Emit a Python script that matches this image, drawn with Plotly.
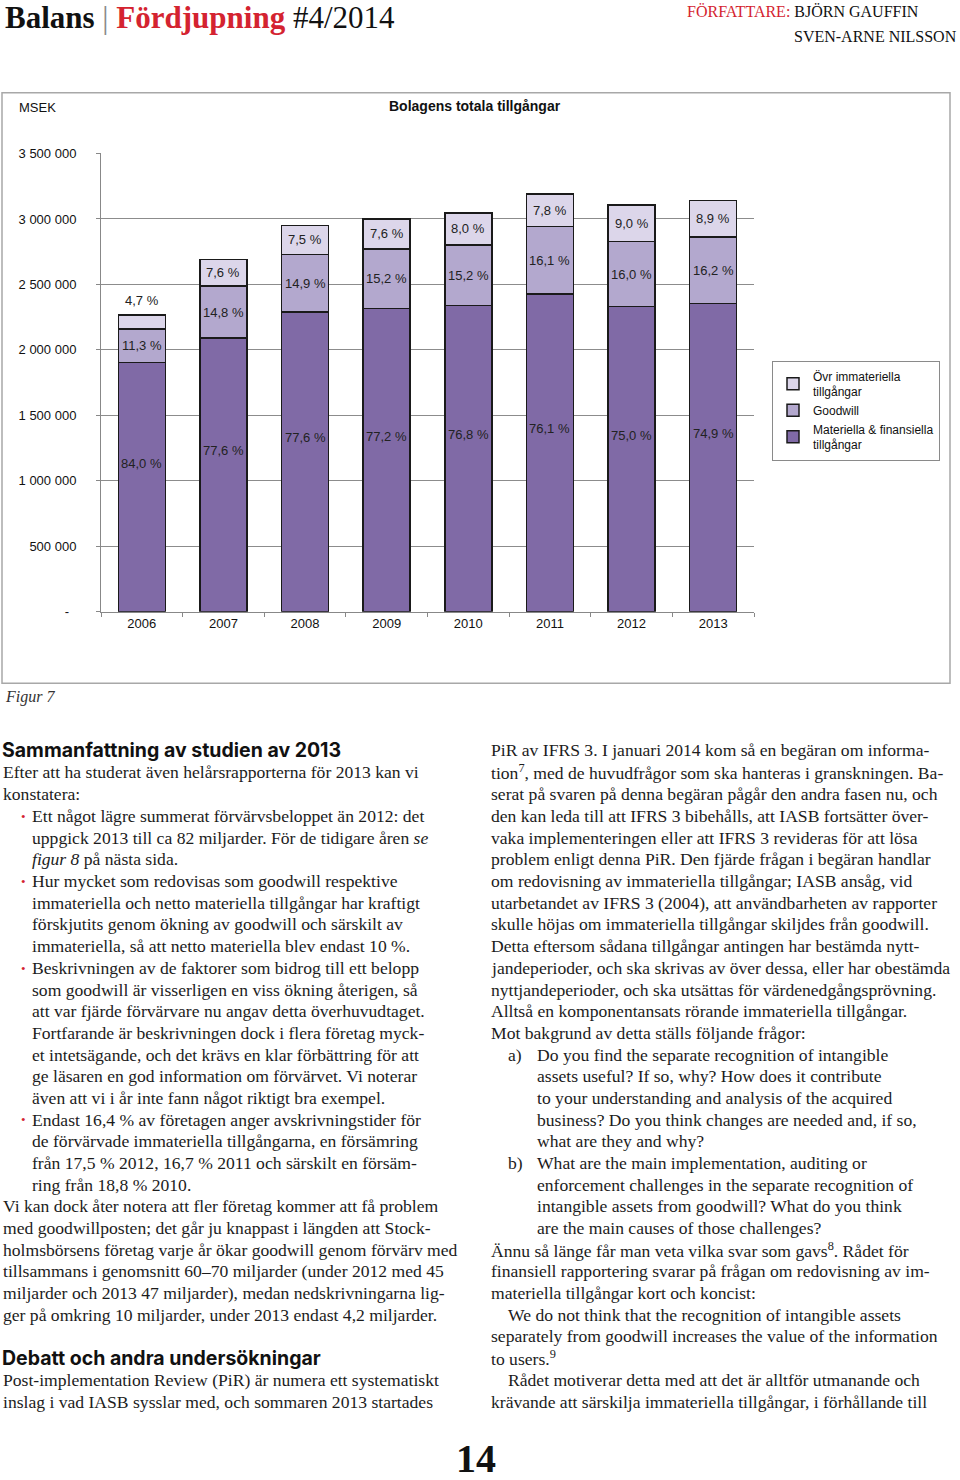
import plotly.graph_objects as go

W, H = 960, 1480

# ---------------- data ----------------
years = ["2006", "2007", "2008", "2009", "2010", "2011", "2012", "2013"]
materiella = [1904000, 2089000, 2290000, 2316000, 2339000, 2428000, 2330000, 2353000]
goodwill = [256000, 398000, 440000, 456000, 463000, 514000, 497000, 509000]
ovr_immateriella = [107000, 205000, 221000, 228000, 244000, 249000, 280000, 280000]

mat_pct = ["84,0 %", "77,6 %", "77,6 %", "77,2 %", "76,8 %", "76,1 %", "75,0 %", "74,9 %"]
gw_pct = ["11,3 %", "14,8 %", "14,9 %", "15,2 %", "15,2 %", "16,1 %", "16,0 %", "16,2 %"]
ovr_pct = ["4,7 %", "7,6 %", "7,5 %", "7,6 %", "8,0 %", "7,8 %", "9,0 %", "8,9 %"]

ytick_vals = [0, 500000, 1000000, 1500000, 2000000, 2500000, 3000000, 3500000]
ytick_text = ["-\u00a0\u00a0", "500 000", "1 000 000", "1 500 000", "2 000 000",
              "2 500 000", "3 000 000", "3 500 000"]

names = ["Materiella & finansiella<br>tillgångar", "Goodwill", "Övr immateriella<br>tillgångar"]
colors = ["#806aa6", "#b3a8ce", "#dcd6ea"]

SANS = "Liberation Sans, Arial, sans-serif"
SERIF = "Liberation Serif, Times New Roman, serif"
HEAD = "Inter, Lato, sans-serif"
RED = "#d42330"
INK = "#1c1c1c"
BODY = 17.6

# vertical page mapping (compensates for the small vertical offset seen in the capture)
VA, VB = 0.9906, 6.2


def Y(t):
    return 1 - ((t - VB) / VA) / H


fig = go.Figure()
for vals, nm, col in zip([materiella, goodwill, ovr_immateriella], names, colors):
    fig.add_trace(go.Bar(x=years, y=vals, name=nm,
                         marker=dict(color=col, line=dict(color="#1a1a1a", width=1.5)),
                         hoverinfo="skip"))

ann = []

# bar labels, positioned from the data values
for i, yr in enumerate(years):
    m, g, o = materiella[i], goodwill[i], ovr_immateriella[i]
    lf = dict(family=SANS, size=13, color="#222")
    ann.append(dict(xref="x", yref="y", x=i, y=m / 2, text=mat_pct[i], yshift=24, showarrow=False, font=lf))
    ann.append(dict(xref="x", yref="y", x=i, y=m + g / 2, text=gw_pct[i], showarrow=False, font=lf))
    if o < 150000:
        ann.append(dict(xref="x", yref="y", x=i, y=m + g + o, text=ovr_pct[i], yshift=14,
                        showarrow=False, font=lf))
    else:
        ann.append(dict(xref="x", yref="y", x=i, y=m + g + o / 2, text=ovr_pct[i], showarrow=False, font=lf))


def T(x, y, text, size=BODY, family=SERIF, color=INK, anchor="left"):
    ann.append(dict(xref="paper", yref="paper", x=x / W, y=Y(y), text=text, showarrow=False,
                    xanchor=anchor, yanchor="middle", font=dict(family=family, size=size, color=color)))


# page header
T(3, 17, "<b>Balans</b> <span style='color:#888'>|</span> <b><span style='color:%s'>Fördjupning</span></b> #4/2014" % RED,
  size=31, family=SERIF, color="#111")
T(921, 11, "<span style='color:%s'>FÖRFATTARE:</span> BJÖRN GAUFFIN" % RED, size=16, family=SERIF,
  color="#111", anchor="right")
T(959, 36, "SVEN-ARNE NILSSON", size=16, family=SERIF, color="#111", anchor="right")

# chart texts
T(17, 107, "MSEK", size=13, family=SANS, color="#111")
T(475, 105, "<b>Bolagens totala tillgångar</b>", size=14, family=SANS, color="#111", anchor="center")
T(3, 697, "<i>Figur 7</i>", size=16, family=SERIF, color="#333")

# headings
T(0, 750, "<b>Sammanfattning av studien av 2013</b>", size=19.5, family=HEAD, color="#111")
T(0, 1358, "<b>Debatt och andra undersökningar</b>", size=19.5, family=HEAD, color="#111")

left_lines = [
    (772, 1, "Efter att ha studerat även helårsrapporterna för 2013 kan vi", False),
    (794, 1, "konstatera:", False),
    (816, 30, "Ett något lägre summerat förvärvsbeloppet än 2012: det", True),
    (838, 30, "uppgick 2013 till ca 82 miljarder. För de tidigare åren <i>se</i>", False),
    (859, 30, "<i>figur 8</i> på nästa sida.", False),
    (881, 30, "Hur mycket som redovisas som goodwill respektive", True),
    (903, 30, "immateriella och netto materiella tillgångar har kraftigt", False),
    (924, 30, "förskjutits genom ökning av goodwill och särskilt av", False),
    (946, 30, "immateriella, så att netto materiella blev endast 10 %.", False),
    (968, 30, "Beskrivningen av de faktorer som bidrog till ett belopp", True),
    (990, 30, "som goodwill är visserligen en viss ökning återigen, så", False),
    (1011, 30, "att var fjärde förvärvare nu angav detta överhuvudtaget.", False),
    (1033, 30, "Fortfarande är beskrivningen dock i flera företag myck-", False),
    (1055, 30, "et intetsägande, och det krävs en klar förbättring för att", False),
    (1076, 30, "ge läsaren en god information om förvärvet. Vi noterar", False),
    (1098, 30, "även att vi i år inte fann något riktigt bra exempel.", False),
    (1120, 30, "Endast 16,4 % av företagen anger avskrivningstider för", True),
    (1141, 30, "de förvärvade immateriella tillgångarna, en försämring", False),
    (1163, 30, "från 17,5 % 2012, 16,7 % 2011 och särskilt en försäm-", False),
    (1185, 30, "ring från 18,8 % 2010.", False),
    (1206, 1, "Vi kan dock åter notera att fler företag kommer att få problem", False),
    (1228, 1, "med goodwillposten; det går ju knappast i längden att Stock-", False),
    (1250, 1, "holmsbörsens företag varje år ökar goodwill genom förvärv med", False),
    (1271, 1, "tillsammans i genomsnitt 60–70 miljarder (under 2012 med 45", False),
    (1293, 1, "miljarder och 2013 47 miljarder), medan nedskrivningarna lig-", False),
    (1315, 1, "ger på omkring 10 miljarder, under 2013 endast 4,2 miljarder.", False),
    (1380, 1, "Post-implementation Review (PiR) är numera ett systematiskt", False),
    (1402, 1, "inslag i vad IASB sysslar med, och sommaren 2013 startades", False),
]
for y, x, txt, bullet in left_lines:
    if bullet:
        T(19, y, "•", size=13, color=RED)
    T(x, y, txt)

right_lines = [
    (750, 489, "PiR av IFRS 3. I januari 2014 kom så en begäran om informa-"),
    (772, 489, "tion<sup>7</sup>, med de huvudfrågor som ska hanteras i granskningen. Ba-"),
    (794, 489, "serat på svaren på denna begäran pågår den andra fasen nu, och"),
    (816, 489, "den kan leda till att IFRS 3 bibehålls, att IASB fortsätter över-"),
    (838, 489, "vaka implementeringen eller att IFRS 3 revideras för att lösa"),
    (859, 489, "problem enligt denna PiR. Den fjärde frågan i begäran handlar"),
    (881, 489, "om redovisning av immateriella tillgångar; IASB ansåg, vid"),
    (903, 489, "utarbetandet av IFRS 3 (2004), att användbarheten av rapporter"),
    (924, 489, "skulle höjas om immateriella tillgångar skiljdes från goodwill."),
    (946, 489, "Detta eftersom sådana tillgångar antingen har bestämda nytt-"),
    (968, 489, "jandeperioder, och ska skrivas av över dessa, eller har obestämda"),
    (990, 489, "nyttjandeperioder, och ska utsättas för värdenedgångsprövning."),
    (1011, 489, "Alltså en komponentansats rörande immateriella tillgångar."),
    (1033, 489, "Mot bakgrund av detta ställs följande frågor:"),
    (1055, 506, "a)"),
    (1055, 535, "Do you find the separate recognition of intangible"),
    (1076, 535, "assets useful? If so, why? How does it contribute"),
    (1098, 535, "to your understanding and analysis of the acquired"),
    (1120, 535, "business? Do you think changes are needed and, if so,"),
    (1141, 535, "what are they and why?"),
    (1163, 506, "b)"),
    (1163, 535, "What are the main implementation, auditing or"),
    (1185, 535, "enforcement challenges in the separate recognition of"),
    (1206, 535, "intangible assets from goodwill? What do you think"),
    (1228, 535, "are the main causes of those challenges?"),
    (1250, 489, "Ännu så länge får man veta vilka svar som gavs<sup>8</sup>. Rådet för"),
    (1271, 489, "finansiell rapportering svarar på frågan om redovisning av im-"),
    (1293, 489, "materiella tillgångar kort och koncist:"),
    (1315, 506, "We do not think that the recognition of intangible assets"),
    (1336, 489, "separately from goodwill increases the value of the information"),
    (1358, 489, "to users.<sup>9</sup>"),
    (1380, 506, "Rådet motiverar detta med att det är alltför utmanande och"),
    (1402, 489, "krävande att särskilja immateriella tillgångar, i förhållande till"),
]
for y, x, txt in right_lines:
    T(x, y, txt)

# page number
T(476, 1459, "<b>14</b>", size=40, family=SERIF, color="#111", anchor="center")

fig.update_layout(
    width=W, height=H,
    margin=dict(l=0, r=0, t=0, b=0),
    paper_bgcolor="white", plot_bgcolor="white",
    barmode="stack", bargap=0.424,
    showlegend=True,
    legend=dict(x=940 / W, xanchor="right", y=Y(360), yanchor="top",
                traceorder="reversed", bordercolor="#8a8a8a", borderwidth=1,
                font=dict(family=SANS, size=12, color="#111"), bgcolor="white",
                itemwidth=30, tracegroupgap=6),
    xaxis=dict(domain=[101 / W, 754 / W], type="category", range=[-0.5, 7.5],
               showline=True, linecolor="#888", linewidth=1,
               ticks="outside", tickson="boundaries", ticklen=4, tickcolor="#888", tickangle=0,
               tickfont=dict(family=SANS, size=13, color="#111"), showgrid=False, fixedrange=True),
    yaxis=dict(domain=[Y(611.3), Y(152.8)], range=[0, 3500000], tickvals=ytick_vals,
               ticktext=ytick_text, showline=True, linecolor="#888", linewidth=1,
               ticks="outside", ticklen=4, tickcolor="#888", ticklabelstandoff=17,
               gridcolor="#8c8c8c", gridwidth=1, zeroline=False,
               tickfont=dict(family=SANS, size=13, color="#111"), fixedrange=True),
    annotations=ann,
    shapes=[dict(type="rect", xref="paper", yref="paper", x0=2 / W, x1=950 / W,
                 y0=Y(683), y1=Y(92), line=dict(color="#a8a8a8", width=1.5), layer="below")],
)

fig.write_html(
    "out.html",
    config={"displayModeBar": False, "responsive": False},
    post_script=("var s=document.createElement('style');"
                 "s.innerHTML='html,body{margin:0!important;padding:0!important;overflow:hidden;}';"
                 "document.head.appendChild(s);"),
)
